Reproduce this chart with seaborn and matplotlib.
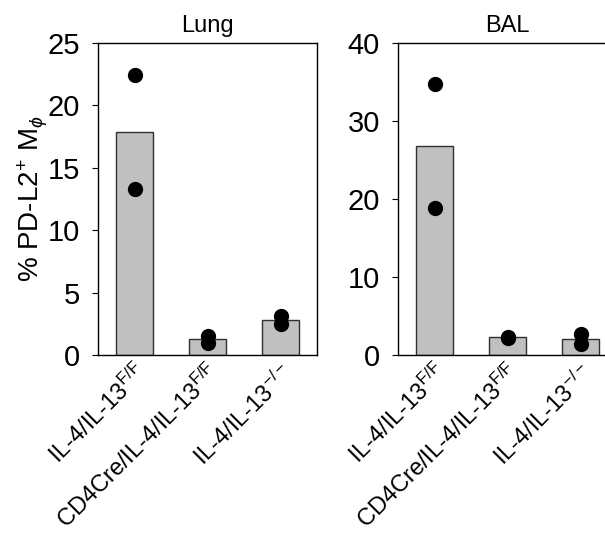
import numpy as np
import pandas as pd
import matplotlib
matplotlib.use('Agg')
import matplotlib.pyplot as plt
import seaborn as sns

## data
groups = ['IL-4/IL-13$^{\\mathrm{F/F}}$',
          'CD4Cre/IL-4/IL-13$^{\\mathrm{F/F}}$',
          'IL-4/IL-13$^{\\mathrm{-/-}}$']
lung_vals = [[22.4, 13.3], [1.55, 1.0], [3.1, 2.5]]
bal_vals = [[34.7, 18.9], [2.35, 2.2], [2.75, 1.45]]
panels = ['Lung', 'BAL']
ylims = [(0, 25), (0, 40)]
yticks = [[0, 5, 10, 15, 20, 25], [0, 10, 20, 30, 40]]

def to_long(vals):
    rows = []
    for g, vs in zip(groups, vals):
        for v in vs:
            rows.append({'group': g, 'value': v})
    return pd.DataFrame(rows)

sns.set_style('white')
plt.rcParams['font.family'] = ['Liberation Sans', 'DejaVu Sans']
plt.rcParams['mathtext.fontset'] = 'custom'
plt.rcParams['mathtext.rm'] = 'Liberation Sans'
plt.rcParams['mathtext.it'] = 'Liberation Sans:italic'
plt.rcParams['mathtext.sf'] = 'Liberation Sans'
for k in ['text.color', 'axes.labelcolor', 'xtick.color', 'ytick.color']:
    plt.rcParams[k] = 'black'

fig = plt.figure(figsize=(6.05, 5.41), dpi=100)
ax1 = fig.add_axes([0.162, 0.3438, 0.362, 0.5767])
ax2 = fig.add_axes([0.658, 0.3438, 0.362, 0.5767])

for ax, name, vals, yl, yt in zip([ax1, ax2], panels, [lung_vals, bal_vals], ylims, yticks):
    df = to_long(vals)
    sns.barplot(ax=ax, data=df, x='group', y='value', order=groups, errorbar=None,
                color='#c0c0c0', saturation=1, width=0.5, edgecolor='#303030', linewidth=1)
    sns.stripplot(ax=ax, data=df, x='group', y='value', order=groups, jitter=False,
                  color='black', size=11, zorder=3)
    ax.set_xlim(-0.5, 2.5)
    ax.set_ylim(*yl)
    ax.set_yticks(yt)
    ax.set_title(name, fontsize=17, pad=8)
    ax.set_xlabel('')
    ax.set_ylabel('')
    ax.tick_params(axis='y', labelsize=21, length=4, width=0.8, direction='out', left=True, pad=9)
    ax.tick_params(axis='x', labelsize=17, length=0, pad=4)
    for lbl in ax.get_xticklabels():
        lbl.set_rotation(45)
        lbl.set_ha('right')
        lbl.set_rotation_mode('anchor')
    for sp in ax.spines.values():
        sp.set_color('black')
        sp.set_linewidth(1)

ax1.set_ylabel('% PD-L2$^{+}$ M$_{\\phi}$', fontsize=20, labelpad=-2)

fig.savefig('out.png', dpi=100)
